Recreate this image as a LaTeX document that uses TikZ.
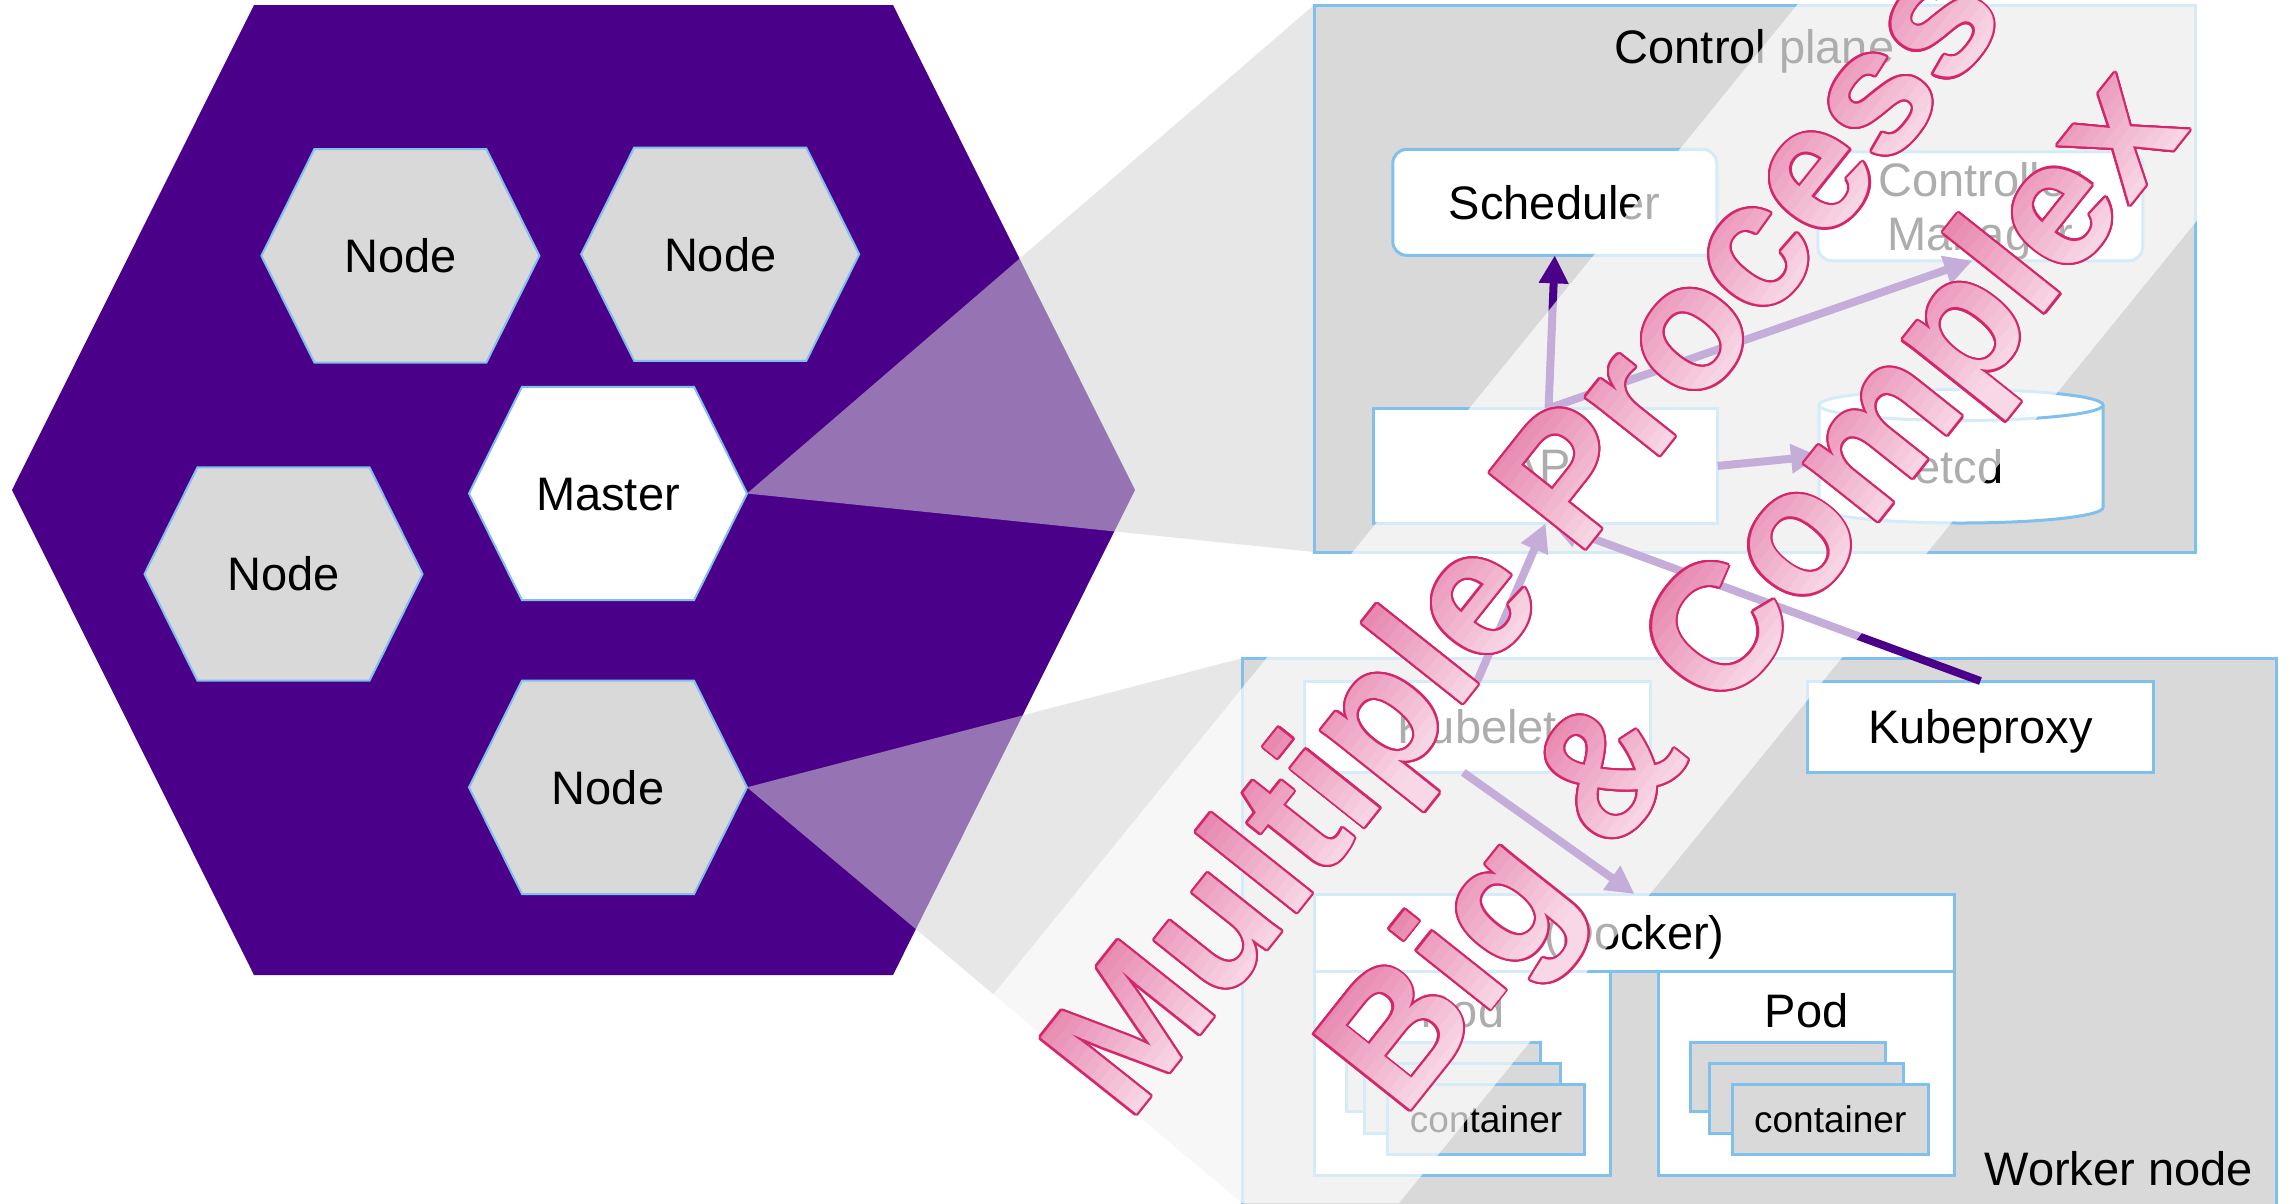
\documentclass[tikz,border=0pt]{standalone}
\usepackage{fontspec}
\setmainfont{Liberation Sans}
\usetikzlibrary{arrows.meta}
\definecolor{indig}{RGB}{75,0,138}
\definecolor{boxgray}{RGB}{217,217,217}
\definecolor{projgray}{RGB}{213,213,213}
\definecolor{edgeblue}{RGB}{127,193,236}
\definecolor{wmdark}{RGB}{231,134,174}
\definecolor{wmlight}{RGB}{248,216,230}
\definecolor{wmline}{RGB}{212,38,106}
\pgfdeclarelayer{back}
\pgfdeclarelayer{proj}
\pgfsetlayers{back,proj,main}
\tikzset{
  txt/.style={font=\fontsize{47}{54}\selectfont, text height=33.6pt, text depth=0pt, inner sep=0pt},
  smalltxt/.style={font=\fontsize{37}{44}\selectfont, text height=26.5pt, text depth=0pt, inner sep=0pt},
  hexline/.style={draw=edgeblue, line width=2pt},
  boxline/.style={draw=edgeblue, line width=3pt, outer sep=0pt},
  whitebox/.style={boxline, fill=white, txt},
  graybox/.style={boxline, fill=boxgray, inner sep=0pt},
  conbox/.style={boxline, fill=boxgray, smalltxt},
  conn/.style={draw=indig, line width=8pt, -{Triangle[width=28pt,length=28pt]}},
  wm/.style={font=\fontsize{178}{205}\selectfont\bfseries, anchor=base, inner sep=0pt},
  pics/hexa/.style n args={2}{code={
     \draw[hexline, fill=#1] (-139,0) -- (-86,-106.7) -- (86,-106.7) -- (139,0) -- (86,106.7) -- (-86,106.7) -- cycle;
     \coordinate (-e) at (139,0);
     \node[txt] (-t) at (0,0) {#2};
  }},
  pics/wmline/.style={code={
     \foreach \a in {0,20,...,340} {
       \node[wm, text=wmline, shift={(\a:2.2pt)}] at (0,0) {#1};
     }
     \foreach \i in {0,...,18} {
       \pgfmathsetmacro\ylo{-50+10*\i}
       \pgfmathsetmacro\yhi{\ylo+10.6}
       \pgfmathsetmacro\p{min(100,max(0,(\ylo+5)/130*100))}
       \begin{scope}
         \clip (-980pt,\ylo pt) rectangle (980pt,\yhi pt);
         \node[wm, text=wmdark!\p!wmlight] at (0,0) {#1};
       \end{scope}
     }
  }}
}
\begin{document}
\begin{tikzpicture}[x=1pt, y=-1pt]
\useasboundingbox (0,0) rectangle (2290,1203);
\begin{pgfonlayer}{back}
\fill[white] (0,0) rectangle (2290,1203);
\fill[indig] (254,5) -- (893,5) -- (1135,490) -- (893,975) -- (254,975) -- (12,490) -- cycle;
\end{pgfonlayer}

% hexagons
\pic (n1) at (400.4,255.8) {hexa={boxgray}{Node}};
\pic (n2) at (720.2,254.2) {hexa={boxgray}{Node}};
\pic (mst) at (608,493.5) {hexa={white}{Master}};
\pic (n3) at (283.5,574) {hexa={boxgray}{Node}};
\pic (n4) at (608,787.3) {hexa={boxgray}{Node}};

% control plane
\node[graybox, minimum width=881pt, minimum height=547pt] (cp) at (1754.5,278.5) {};
\node[txt, anchor=base] (cplbl) at (1754.5,63.6) {Control plane};
\node[whitebox, rounded corners=14pt, minimum width=324pt, minimum height=106pt] (sched) at (1554.75,202.35) {Scheduler};
\node[whitebox, rounded corners=14pt, minimum width=325pt, minimum height=109pt] (ctrl) at (1980.25,206.25) {};
\node[txt, anchor=base] (ctrl1) at (1980.25,196.4) {Controller};
\node[txt, anchor=base] (ctrl2) at (1980.25,250) {Manager};
\node[whitebox, minimum width=344pt, minimum height=115pt] (api) at (1545.55,465.9) {API};
\node[minimum width=284pt, minimum height=134pt, inner sep=0pt, outer sep=0pt] (etcd) at (1961,456) {};
\draw[boxline, fill=white] (1819,405) -- (1819,507.5) arc[start angle=180, end angle=360, x radius=142pt, y radius=15.5pt] -- (2103,405) arc[start angle=0, end angle=180, x radius=142pt, y radius=15.5pt] -- cycle;
\draw[boxline] (1819,405) arc[start angle=180, end angle=360, x radius=142pt, y radius=15.5pt];
\node[txt, anchor=base] (etcdlbl) at (1959,483.7) {etcd};

% worker node
\node[graybox, minimum width=1034pt, minimum height=552pt] (wk) at (1759,934.2) {};
\node[txt, anchor=base east] (wklbl) at (2253,1185) {Worker node};
\node[whitebox, minimum width=346.5pt, minimum height=91.4pt] (kubelet) at (1477.25,726.7) {Kubelet};
\node[whitebox, minimum width=346.8pt, minimum height=91.4pt] (kproxy) at (1980.4,726.7) {Kubeproxy};
\node[whitebox, minimum width=639.6pt, minimum height=77.3pt] (docker) at (1634.5,932.65) {(Docker)};
\node[whitebox, minimum width=295.3pt, minimum height=203.7pt] (podl) at (1462.35,1073.15) {};
\node[txt, anchor=base] (podllbl) at (1462.35,1027.5) {Pod};
\node[whitebox, minimum width=295.5pt, minimum height=203.7pt] (podr) at (1806.55,1073.15) {};
\node[txt, anchor=base] (podrlbl) at (1806.55,1027.5) {Pod};
\node[conbox, minimum width=194.6pt, minimum height=69.5pt] (cl1) at (1443.3,1076.75) {container};
\node[conbox, minimum width=195.2pt, minimum height=69.4pt] (cl2) at (1462.4,1098.3) {container};
\node[conbox, minimum width=196.7pt, minimum height=70.6pt] (cl3) at (1486.05,1119.3) {container};
\node[conbox, minimum width=195pt, minimum height=69.5pt] (cr1) at (1787.5,1076.75) {container};
\node[conbox, minimum width=194.5pt, minimum height=69.4pt] (cr2) at (1806.25,1098.3) {container};
\node[conbox, minimum width=195.5pt, minimum height=70.6pt] (cr3) at (1830.25,1119.3) {container};

% projections
\begin{pgfonlayer}{proj}
\fill[projgray, fill opacity=0.55] (mst-e) -- (cp.north west) -- (cp.south west) -- cycle;
\fill[projgray, fill opacity=0.55] (n4-e) -- (wk.north west) -- (1242,1203) -- cycle;
\end{pgfonlayer}

% connectors
\draw[conn] ([xshift=3pt]api.north) -- (sched.south);
\draw[conn] ([xshift=3pt]api.north) -- ([xshift=-8pt]ctrl.south);
\draw[conn] (api.east) -- (etcd.west);
\draw[conn] (kubelet.north) -- (api.south);
\draw[conn] (kproxy.north) -- ([xshift=6pt]api.south);
\draw[conn] ([xshift=-14pt]kubelet.south) -- (docker.north);

% translucent band
\fill[white, fill opacity=0.68] (1801,0) -- (2376,0) -- (1399,1203) -- (824,1203) -- cycle;

% watermark
\begin{scope}[transform canvas={shift={(1631.1,492.4)}, rotate=51.5}]
  \pic (wm1) at (0,0) {wmline={Multiple Processes}};
\end{scope}
\begin{scope}[transform canvas={shift={(1797,624.4)}, rotate=51.5}]
  \pic (wm2) at (0,0) {wmline={Big \& Complex}};
\end{scope}
\end{tikzpicture}
\end{document}
